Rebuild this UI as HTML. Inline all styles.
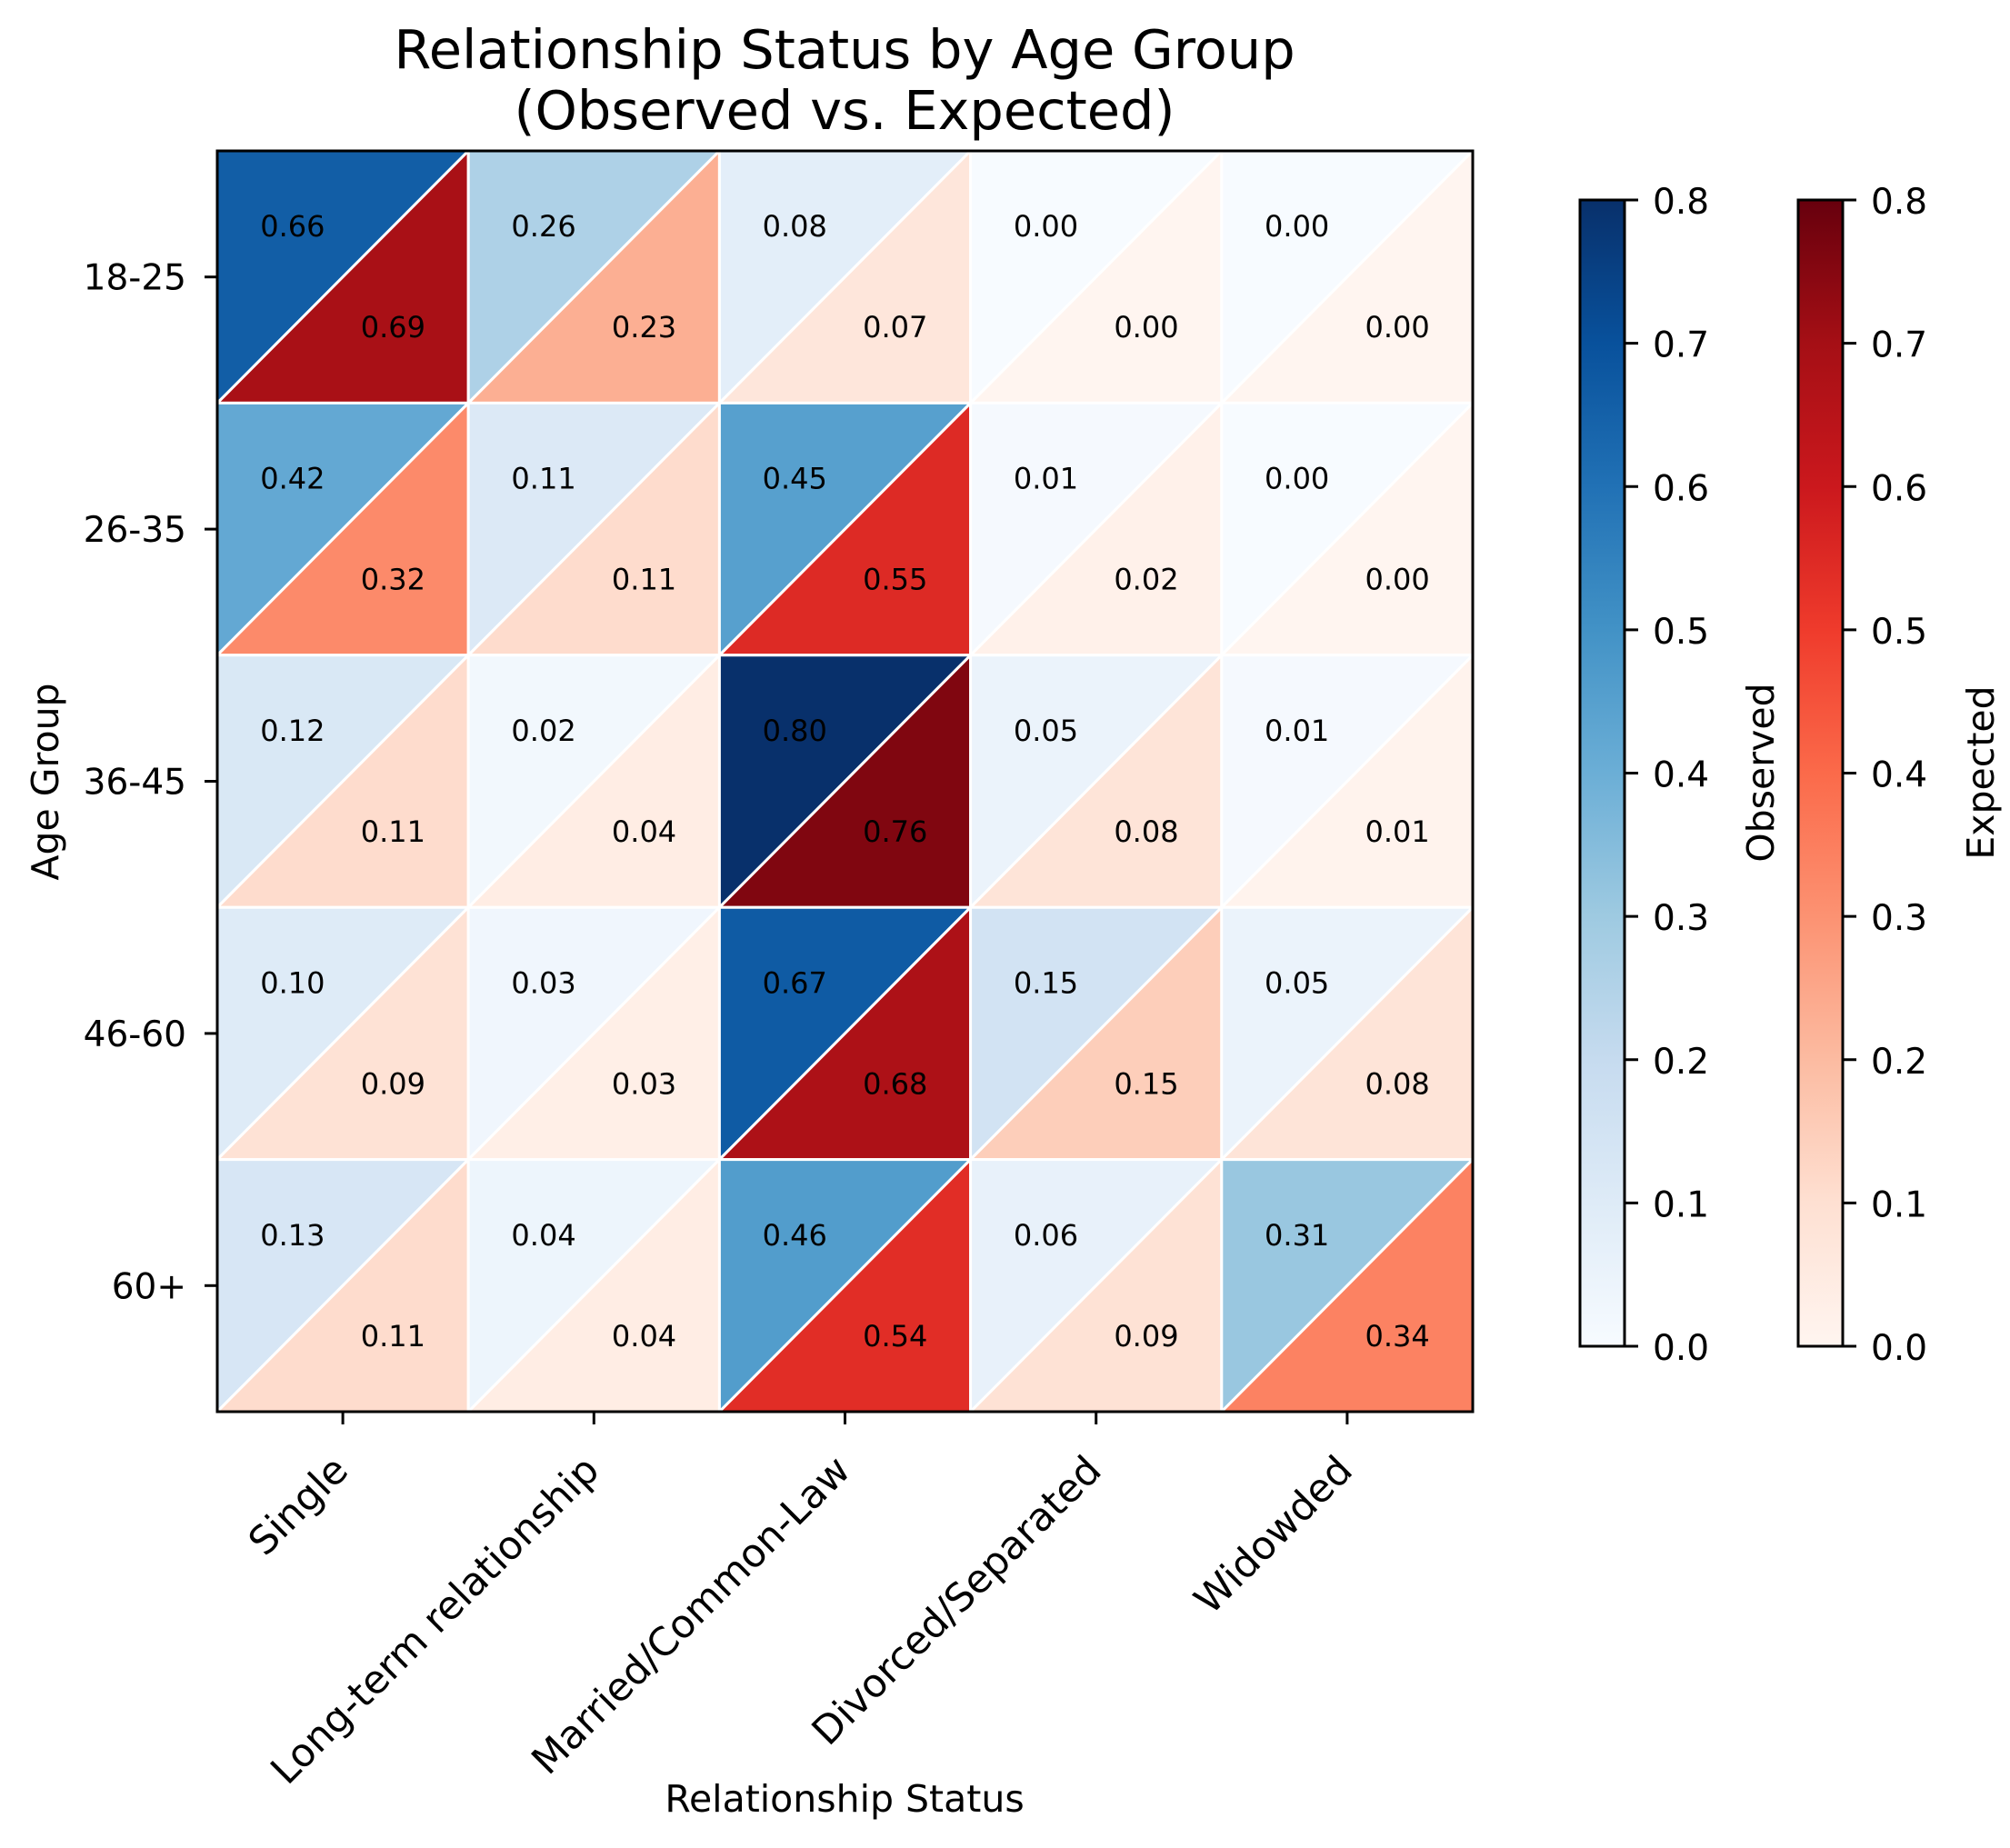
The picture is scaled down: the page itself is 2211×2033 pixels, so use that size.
<!DOCTYPE html>
<html><head><meta charset="utf-8"><style>
html,body{margin:0;padding:0;background:#fff;}
svg{display:block;font-family:"DejaVu Sans","Liberation Sans",sans-serif;}
</style></head><body>
<svg id="chart" width="2211" height="2033" viewBox="0 0 2211 2033" xmlns="http://www.w3.org/2000/svg">
<defs>
<linearGradient id="gBlue" x1="0" y1="1" x2="0" y2="0"></linearGradient>
<linearGradient id="gRed" x1="0" y1="1" x2="0" y2="0"></linearGradient>
</defs>
<text x="929" y="75" font-size="59" text-anchor="middle">Relationship Status by Age Group</text>
<text x="929" y="142" font-size="59" text-anchor="middle">(Observed vs. Expected)</text>
<g id="cells"></g>
<rect x="239" y="166" width="1381" height="1387" fill="none" stroke="#000" stroke-width="3"/>
<g id="axes"></g>
<text x="929" y="1993" font-size="41" text-anchor="middle">Relationship Status</text>
<text transform="translate(64,860) rotate(-90)" font-size="41" text-anchor="middle">Age Group</text>
<g id="cbars"></g>
</svg>
<script>
const categories = ["Single","Long-term relationship","Married/Common-Law","Divorced/Separated","Widowded"];
const ageGroups = ["18-25","26-35","36-45","46-60","60+"];
const observed = [
 [0.66,0.26,0.08,0.00,0.00],
 [0.42,0.11,0.45,0.01,0.00],
 [0.12,0.02,0.80,0.05,0.01],
 [0.10,0.03,0.67,0.15,0.05],
 [0.13,0.04,0.46,0.06,0.31]];
const expected = [
 [0.69,0.23,0.07,0.00,0.00],
 [0.32,0.11,0.55,0.02,0.00],
 [0.11,0.04,0.76,0.08,0.01],
 [0.09,0.03,0.68,0.15,0.08],
 [0.11,0.04,0.54,0.09,0.34]];
const cbarTicks = [0,0.1,0.2,0.3,0.4,0.5,0.6,0.7,0.8];

const NS="http://www.w3.org/2000/svg";
const X0=239,Y0=166,W=1381,H=1387,VMAX=0.8;
const cw=W/categories.length, ch=H/ageGroups.length;
const xPos=i=>X0+i*cw, yPos=j=>Y0+j*ch;
const blues=["#f7fbff","#deebf7","#c6dbef","#9ecae1","#6baed6","#4292c6","#2171b5","#08519c","#08306b"];
const reds=["#fff5f0","#fee0d2","#fcbba1","#fc9272","#fb6a4a","#ef3b2c","#cb181d","#a50f15","#67000d"];
function hex(h){return [1,3,5].map(i=>parseInt(h.substr(i,2),16));}
function cmap(stops,v){let t=Math.max(0,Math.min(1,v/VMAX))*(stops.length-1);let i=Math.min(stops.length-2,Math.floor(t));let f=t-i;
 const a=hex(stops[i]),b=hex(stops[i+1]);return "rgb("+a.map((c,k)=>Math.round(c+(b[k]-c)*f)).join(",")+")";}
function mk(tag,attrs,parent,txt){const e=document.createElementNS(NS,tag);for(const k in attrs)e.setAttribute(k,attrs[k]);if(txt!==undefined)e.textContent=txt;parent.appendChild(e);return e;}
const cells=document.getElementById('cells');
ageGroups.forEach((ag,j)=>{categories.forEach((c,i)=>{
 const x=xPos(i),y=yPos(j);
 const t1=mk('polygon',{points:`${x},${y} ${x+cw},${y} ${x},${y+ch}`,fill:cmap(blues,observed[j][i]),stroke:'#fff','stroke-width':3},cells);
 
 
 const t2=mk('polygon',{points:`${x+cw},${y} ${x+cw},${y+ch} ${x},${y+ch}`,fill:cmap(reds,expected[j][i]),stroke:'#fff','stroke-width':3},cells);
 
 
 const l1=mk('text',{x:x+cw*0.3,y:y+ch*0.3+11,'font-size':32,'text-anchor':'middle'},cells,observed[j][i].toFixed(2));
 
 
 const l2=mk('text',{x:x+cw*0.7,y:y+ch*0.7+11,'font-size':32,'text-anchor':'middle'},cells,expected[j][i].toFixed(2));
 
 
});});
const axes=document.getElementById('axes');
categories.forEach((c,i)=>{const cx=xPos(i)+cw/2;
 const tk=mk('line',{x1:cx,y1:Y0+H,x2:cx,y2:Y0+H+14,stroke:'#000','stroke-width':3},axes);
 
 
 const t=mk('text',{transform:`translate(${cx+8},1620) rotate(-45)`,'font-size':43,'text-anchor':'end'},axes,c);
 
 
});
ageGroups.forEach((a,j)=>{const cy=yPos(j)+ch/2;
 const tk=mk('line',{x1:X0-14,y1:cy,x2:X0,y2:cy,stroke:'#000','stroke-width':3},axes);
 
 
 const t=mk('text',{x:X0-34,y:cy+14,'font-size':39,'text-anchor':'end'},axes,a);
 
 
});
[['gBlue',blues],['gRed',reds]].forEach(([id,st])=>{const g=document.getElementById(id);st.forEach((c,k)=>mk('stop',{offset:(k/(st.length-1)),'stop-color':c},g));});
const cb=document.getElementById('cbars');
const CT=220,CB=1481;const cy=v=>CB-(v/VMAX)*(CB-CT);
[[1738,'gBlue','Observed',1951],[1978,'gRed','Expected',2193]].forEach(([bx,gid,lab,lx])=>{
 const r=mk('rect',{x:bx,y:CT,width:49,height:CB-CT,fill:`url(#${gid})`,stroke:'#000','stroke-width':3},cb);
 
 
 cbarTicks.forEach(v=>{
  const tk=mk('line',{x1:bx+49,y1:cy(v),x2:bx+64,y2:cy(v),stroke:'#000','stroke-width':3},cb);
  
  
  const t=mk('text',{x:bx+80,y:cy(v)+15,'font-size':39},cb,v.toFixed(1));
  
  
 });
 const t=mk('text',{transform:`translate(${lx},850) rotate(-90)`,'font-size':41,'text-anchor':'middle'},cb,lab);
 
 
});
</script>
</body></html>
